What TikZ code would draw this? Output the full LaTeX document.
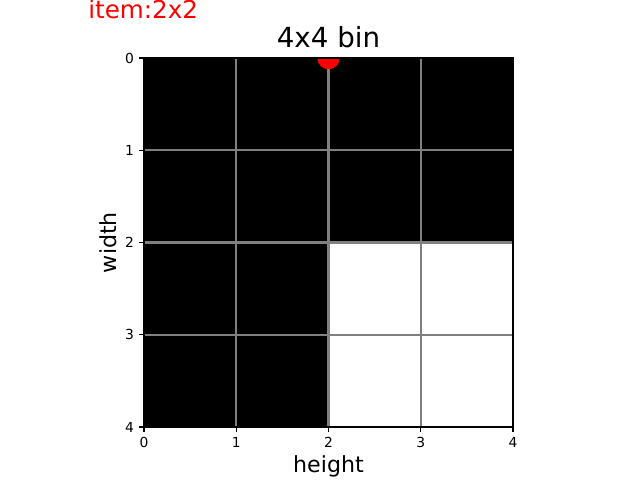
\documentclass[tikz,border=0pt]{standalone}
\usepackage{fontspec}
\setmainfont{DejaVu Sans}
\definecolor{mplgray}{HTML}{808080}
\definecolor{mplred}{HTML}{FF0000}
\tikzset{
    ticklabel/.style={inner sep=0pt, font=\fontsize{9.84}{11}\selectfont},
    biglabel/.style={inner sep=0pt, font=\fontsize{15.75}{18}\selectfont},
    binline/.style={mplgray, line width=1.7pt},
    spine/.style={black, line width=0.8pt}
}
\begin{document}
\begin{tikzpicture}[x=2.30625cm, y=-2.30625cm]
        \useasboundingbox (-1.561,-0.629) rectangle (5.377,4.575);
        % occupied cells of the bin
        \fill[black] (0,0) -- (4,0) -- (4,2) -- (2,2) -- (2,4) -- (0,4) -- cycle;
        % cell borders
        \foreach \k in {0,...,4} {
            \draw[binline] (\k,0) -- (\k,4);
            \draw[binline] (0,\k) -- (4,\k);
        }
        % placement point of the item
        \begin{scope}
            \clip (0,0) rectangle (4,4);
            \fill[mplred] (2,0) circle [radius=0.28cm];
        \end{scope}
        \draw[spine] (0,0) rectangle (4,4);
        % ticks and tick labels
        \foreach \k in {0,...,4} {
            \draw[spine] (\k,4) -- (\k,4.053);
            \node[ticklabel, anchor=north] (xt\k) at (\k,4.105) {\k};
            \draw[spine] (0,\k) -- (-0.053,\k);
            \node[ticklabel, anchor=east] (yt\k) at (-0.105,\k) {\k};
        }
        \node[biglabel, anchor=base, font=\fontsize{19.7}{22}\selectfont] (title) at (2,-0.112) {4x4 bin};
        \node[biglabel, anchor=base west, mplred, font=\fontsize{17.5}{20}\selectfont] (item) at (-0.607,-0.430) {item:2x2};
        \node[biglabel, anchor=base] (xlabel) at (2,4.495) {height};
        \node[biglabel, anchor=base, rotate=90] (ylabel) at (-0.3035,2) {width};
    \end{tikzpicture}
\end{document}
